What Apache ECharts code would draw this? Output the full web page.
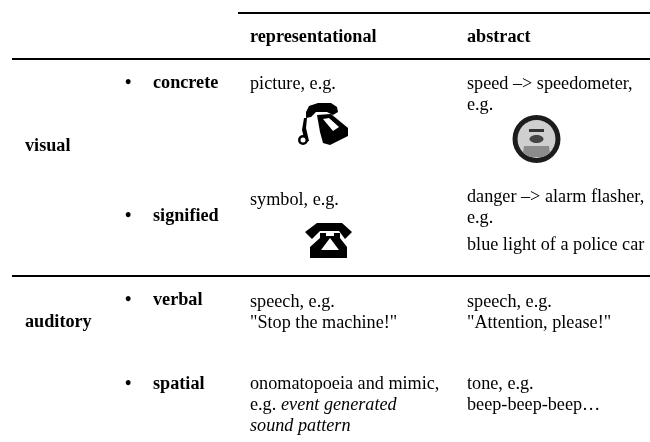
<!DOCTYPE html>
<html><head><meta charset="utf-8"><style>html,body{margin:0;padding:0;background:#fff}#c{width:650px;height:442px}</style>
<script src="https://cdn.jsdelivr.net/npm/echarts@6/dist/echarts.min.js"></script></head>
<body><div id="c"></div><script>
const FONT='"Liberation Serif","Times New Roman",serif';
const SIZE='18.2px ';
const headers=[["representational",250,37],["abstract",467,37]];
const groupLabels=[["visual",25,146],["auditory",25,322]];
const bullets=[["concrete",83],["signified",216],["verbal",300],["spatial",384]];
const rules=[[238,650,13],[12,650,59],[12,650,276]];
const cellLines=[
["picture, e.g.",250,84],
["speed –> speedometer,",467,84],["e.g.",467,105],
["symbol, e.g.",250,200],
["danger –> alarm flasher,",467,197],["e.g.",467,218],["blue light of a police car",467,245],
["speech, e.g.",250,302],["\"Stop the machine!\"",250,323],
["speech, e.g.",467,302],["\"Attention, please!\"",467,323],
["onomatopoeia and mimic,",250,384],["e.g. ",250,405],
["tone, e.g.",467,384],["beep-beep-beep…",467,405]
];
const em=[["event generated",281,405],["sound pattern",250,426]];
function T(s,x,y,o){return {type:'text',x,y,style:Object.assign({text:s,fill:'#000',font:SIZE+FONT,verticalAlign:'middle',align:'left'},o||{})};}
const els=[];
rules.forEach(r=>els.push({type:'line',shape:{x1:r[0],y1:r[2],x2:r[1],y2:r[2]},style:{stroke:'#000',lineWidth:2}}));
const B='bold '+SIZE+FONT, I='italic '+SIZE+FONT;
headers.forEach(h=>els.push(T(h[0],h[1],h[2],{font:B})));
groupLabels.forEach(h=>els.push(T(h[0],h[1],h[2],{font:B})));
bullets.forEach(b=>{els.push(T('•',125,b[1],{font:B}));els.push(T(b[0],153,b[1],{font:B}));});
cellLines.forEach(c=>els.push(T(c[0],c[1],c[2])));
em.forEach(c=>els.push(T(c[0],c[1],c[2],{font:I})));
const P=(pts,fill)=>els.push({type:'polygon',shape:{points:pts},style:{fill}});
// old telephone
P([[306,112],[309,106],[318,103],[331,103],[337,107],[338,112],[333,115],[327,112],[316,112],[311,117],[306,118]],'#000');
P([[317,115],[331,114],[348,128],[348,136],[330,145],[323,143],[320,132]],'#000');
P([[323,119],[329,118],[339,127],[333,131]],'#fff');
P([[304,118],[307,118],[306,128],[309,141],[305,142],[302,130]],'#000');
els.push({type:'circle',shape:{cx:303,cy:140,r:5},style:{fill:'#000'}});
els.push({type:'circle',shape:{cx:303,cy:140,r:2.5},style:{fill:'#fff'}});
// speedometer
els.push({type:'circle',shape:{cx:536.5,cy:139,r:24},style:{fill:'#1c1c1c'}});
els.push({type:'circle',shape:{cx:536.5,cy:139,r:19},style:{fill:'#cfcfcf'}});
els.push({type:'polygon',shape:{points:[[524,146],[549,146],[550,153],[543,157],[530,157],[523,153]]},style:{fill:'#8c8c8c'}});
els.push({type:'rect',shape:{x:529,y:129,width:15,height:3},style:{fill:'#333'}});
els.push({type:'ellipse',shape:{cx:536.5,cy:139,rx:7,ry:4},style:{fill:'#444'}});
// modern telephone
P([[305,232],[317,223],[342,223],[352,232],[345,239],[339,231],[320,231],[312,239]],'#000');
P([[320,233],[326,233],[326,236],[334,236],[334,233],[340,233],[340,238],[347,247],[347,258],[310,258],[310,247],[320,238]],'#000');
P([[330,238],[339,250],[321,250]],'#fff');
const chart=echarts.init(document.getElementById('c'),null,{renderer:'canvas'});
chart.setOption({animation:false,graphic:{elements:els}});
</script></body></html>
